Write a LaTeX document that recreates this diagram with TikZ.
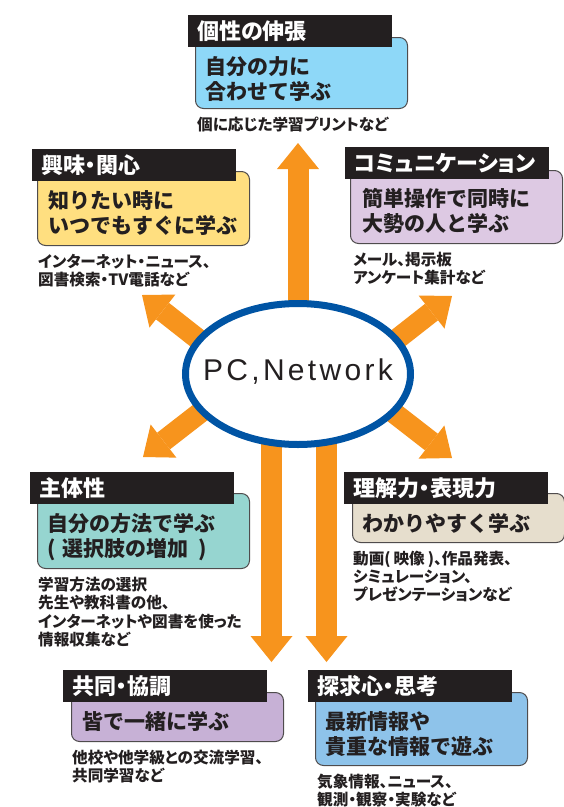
\documentclass[tikz,border=0pt]{standalone}
\usepackage{fontspec}
\usetikzlibrary{arrows.meta,positioning,shapes.geometric}
\newfontfamily\jpfont{Noto Sans CJK JP}
\newfontfamily\jpnarrow[RawFeature=+palt]{Noto Sans CJK JP}
\newfontfamily\netfont[LetterSpace=11]{Liberation Sans}
\definecolor{arroworange}{RGB}{247,148,29}
\definecolor{netblue}{RGB}{0,84,164}
\definecolor{barblack}{RGB}{35,31,32}
\definecolor{inkgray}{RGB}{35,31,32}
\definecolor{fillsky}{RGB}{142,216,248}
\definecolor{fillyellow}{RGB}{255,223,128}
\definecolor{filllilac}{RGB}{221,201,227}
\definecolor{fillteal}{RGB}{150,213,208}
\definecolor{fillbeige}{RGB}{230,222,205}
\definecolor{fillmauve}{RGB}{199,177,214}
\definecolor{fillblue}{RGB}{142,195,234}

\begin{document}
\begin{tikzpicture}[
    x=1pt, y=-1pt,
    titlebar/.style={fill=barblack, text=white, anchor=north west, minimum height=32pt, inner xsep=9pt, inner ysep=0pt, text width=186pt, align=left, font=\jpnarrow\bfseries\fontsize{22}{24}\selectfont},
    goalbox/.style={draw=inkgray!80, line width=1pt, rounded corners=8pt, anchor=north west, minimum width=212pt, inner sep=0pt},
    goaltext/.style={text=inkgray, align=left, inner sep=0pt, font=\jpfont\bfseries\fontsize{21}{25}\selectfont},
    note/.style={text=inkgray, align=left, inner sep=0pt, font=\jpnarrow\bfseries\fontsize{15.6}{18.2}\selectfont},
    flow/.style={arroworange, line width=21pt, -{Triangle[width=42pt,length=26pt,line width=0pt]}}
]
  \useasboundingbox (0,0) rectangle (564,807);

  % arrows out of the centre
  \coordinate (upFoot) at (298,380);   \coordinate (upTip) at (298,143);
  \coordinate (ulFoot) at (245,376);   \coordinate (ulTip) at (142,295);
  \coordinate (urFoot) at (350,376);   \coordinate (urTip) at (452,296);
  \coordinate (llFoot) at (246,377);   \coordinate (llTip) at (143,457);
  \coordinate (lrFoot) at (349,378);   \coordinate (lrTip) at (452,458);
  \coordinate (dlFoot) at (271.5,400); \coordinate (dlTip) at (271.5,662);
  \coordinate (drFoot) at (326.5,400); \coordinate (drTip) at (326.5,662);

  \draw[flow] (upFoot) -- (upTip);
  \draw[flow] (ulFoot) -- (ulTip);
  \draw[flow] (urFoot) -- (urTip);
  \draw[flow] (llFoot) -- (llTip);
  \draw[flow] (lrFoot) -- (lrTip);
  \draw[flow] (dlFoot) -- (dlTip);
  \draw[flow] (drFoot) -- (drTip);

  \node[ellipse, draw=netblue, line width=7pt, fill=white, minimum width=225pt, minimum height=141pt, inner sep=0pt] (net) at (298,374) {};
  \node[text=inkgray, inner sep=0pt, text height=22pt, text depth=10pt, font=\netfont\fontsize{30}{30}\selectfont] (netlabel) at (net.center) {PC,Network};

  % top
  \node[goalbox, fill=fillsky, minimum height=71pt] (growbox) at (195,37) {};
  \node[titlebar] (growtitle) at (188,15) {個性の伸張};
  \node[goaltext, below right=9pt and 17pt of growtitle.south west] (growtext) {自分の力に\\合わせて学ぶ};
  \node[note, below right=8pt and 2pt of growbox.south west] (growtips) {個に応じた学習プリントなど};

  % upper left
  \node[goalbox, fill=fillyellow, minimum height=74pt] (interestbox) at (37,171) {};
  \node[titlebar] (interesttitle) at (32,149) {興味・関心};
  \node[goaltext, below right=9pt and 16pt of interesttitle.south west] (interesttext) {知りたい時に\\いつでもすぐに学ぶ};
  \node[note, below right=8pt and 1pt of interestbox.south west] (interesttips) {インターネット・ニュース、\\図書検索・TV電話など};

  % upper right
  \node[goalbox, fill=filllilac, minimum height=73pt] (commbox) at (350,170) {};
  \node[titlebar] (commtitle) at (345,147) {コミュニケーション};
  \node[goaltext, below right=9pt and 17pt of commtitle.south west] (commtext) {簡単操作で同時に\\大勢の人と学ぶ};
  \node[note, below right=8pt and 3pt of commbox.south west] (commtips) {メール、掲示板\\アンケート集計など};

  % middle left
  \node[goalbox, fill=fillteal, minimum height=75pt] (selfbox) at (37,493) {};
  \node[titlebar] (selftitle) at (30,472) {主体性};
  \node[goaltext, below right=9pt and 17pt of selftitle.south west] (selftext) {自分の方法で学ぶ\\(\hspace{7pt}選択肢の増加\hspace{10pt})};
  \node[note, below right=8pt and 1pt of selfbox.south west] (selftips) {学習方法の選択\\先生や教科書の他、\\インターネットや図書を使った\\情報収集など};

  % middle right
  \node[goalbox, fill=fillbeige, minimum height=49pt] (expressbox) at (352,493) {};
  \node[titlebar] (expresstitle) at (344,472) {理解力・表現力};
  \node[goaltext, below right=9pt and 18pt of expresstitle.south west] (expresstext) {わかりやすく学ぶ};
  \node[note, below right=8pt and 1pt of expressbox.south west] (expresstips) {動画(\hspace{3pt}映像\hspace{3pt})、作品発表、\\シミュレーション、\\プレゼンテーションなど};

  % bottom left
  \node[goalbox, fill=fillmauve, minimum height=49pt] (coopbox) at (71,692) {};
  \node[titlebar] (cooptitle) at (63,670) {共同・協調};
  \node[goaltext, below right=9pt and 19pt of cooptitle.south west] (cooptext) {皆で一緒に学ぶ};
  \node[note, below right=8pt and 1pt of coopbox.south west] (cooptips) {他校や他学級との交流学習、\\共同学習など};

  % bottom right
  \node[goalbox, fill=fillblue, minimum height=73pt] (inquirybox) at (315,692) {};
  \node[titlebar] (inquirytitle) at (308,670) {探求心・思考};
  \node[goaltext, below right=9pt and 17pt of inquirytitle.south west] (inquirytext) {最新情報や\\貴重な情報で遊ぶ};
  \node[note, below right=8pt and 2pt of inquirybox.south west] (inquirytips) {気象情報、ニュース、\\観測・観察・実験など};
\end{tikzpicture}
\end{document}
